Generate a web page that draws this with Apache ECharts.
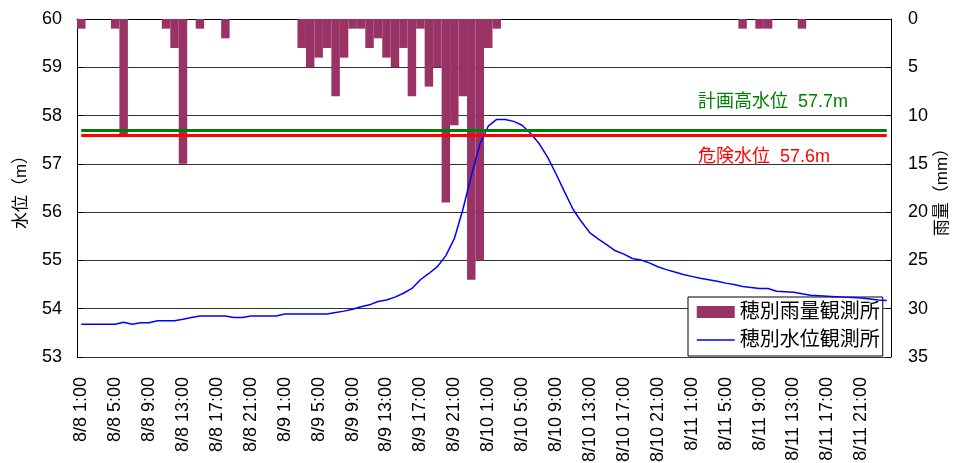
<!DOCTYPE html>
<html><head><meta charset="utf-8">
<script src="https://cdn.jsdelivr.net/npm/echarts@6/dist/echarts.min.js"></script>
<style>html,body{margin:0;padding:0;background:#fff}#c{width:957px;height:463px}</style>
</head><body><div id="c"></div>
<script>
// hourly categories 8/8 1:00 ... 8/12 0:00
const days = ['8/8', '8/9', '8/10', '8/11', '8/12'];
const categories = [];
for (let d = 0; d < 4; d++) {
  for (let h = 1; h <= 23; h++) categories.push(days[d] + ' ' + h + ':00');
  categories.push(days[d + 1] + ' 0:00');
}
// rainfall (mm/h) - 穂別雨量観測所
const rain = [
  1,0,0,0,1,12,0,0,0,0,
  1,3,15,0,1,0,0,2,0,0,
  0,0,0,0,0,0,3,5,4,3,
  8,4,1,1,3,2,4,5,3,8,
  1,7,5,19,11,8,27,25,3,1,
  0,0,0,0,0,0,0,0,0,0,
  0,0,0,0,0,0,0,0,0,0,
  0,0,0,0,0,0,0,0,1,0,
  1,1,0,0,0,1,0,0,0,0,
  0,0,0,0,0,0
];
// water level (m) - 穂別水位観測所
const level = [
  53.68,53.68,53.68,53.68,53.68,53.72,53.68,53.71,53.71,53.75,
  53.75,53.75,53.78,53.82,53.85,53.85,53.85,53.85,53.82,53.82,
  53.85,53.85,53.85,53.85,53.89,53.89,53.89,53.89,53.89,53.89,
  53.92,53.95,53.99,54.04,54.08,54.15,54.18,54.24,54.32,54.42,
  54.60,54.73,54.87,55.10,55.45,56.05,56.75,57.40,57.78,57.92,
  57.92,57.88,57.80,57.63,57.42,57.14,56.79,56.42,56.06,55.80,
  55.57,55.44,55.32,55.20,55.13,55.04,55.01,54.95,54.87,54.81,
  54.76,54.71,54.67,54.63,54.60,54.57,54.53,54.50,54.46,54.44,
  54.42,54.42,54.36,54.35,54.34,54.31,54.28,54.27,54.26,54.25,
  54.24,54.23,54.22,54.20,54.18,54.17
];
const planLevel = 57.7;   // 計画高水位
const dangerLevel = 57.6; // 危険水位
const seriesNames = ['穂別雨量観測所', '穂別水位観測所'];

const FONT = '"Liberation Sans", Arial, "Noto Sans CJK JP", sans-serif';
const chart = echarts.init(document.getElementById('c'), null, {renderer: 'canvas'});
const last = categories.length - 1;
chart.setOption({
  animation: false,
  textStyle: {fontFamily: FONT},
  grid: {left: 77, right: 66, top: 19, bottom: 106, containLabel: false, outerBoundsMode: 'none'},
  legend: {
    left: 688, top: 297, orient: 'vertical',
    backgroundColor: '#fff', borderColor: '#000', borderWidth: 1, borderRadius: 0,
    padding: [3, 3, 4, 8], itemGap: 4, itemWidth: 38, itemHeight: 12,
    textStyle: {fontSize: 20, color: '#000', fontFamily: FONT, lineHeight: 24},
    data: [
      {name: seriesNames[0], icon: 'rect'},
      {name: seriesNames[1], itemStyle: {opacity: 0}, lineStyle: {width: 1.5, color: '#0000ff', opacity: 1}}
    ]
  },
  xAxis: {
    type: 'category', data: categories, boundaryGap: true,
    axisLine: {lineStyle: {color: '#000', width: 1}},
    axisTick: {inside: true, length: 5, interval: 3, lineStyle: {color: '#000'}},
    axisLabel: {interval: 3, rotate: 90, fontSize: 18, color: '#000', margin: 20, fontFamily: FONT},
    splitLine: {show: false}
  },
  yAxis: [{
    type: 'value', min: 53, max: 60, interval: 1,
    name: '水位（m）', nameLocation: 'middle', nameGap: 47, nameMoveOverlap: false,
    nameTextStyle: {fontSize: 17, color: '#000', fontFamily: FONT},
    axisLine: {show: true, lineStyle: {color: '#000'}},
    axisTick: {show: true, inside: true, length: 6, lineStyle: {color: '#000'}},
    axisLabel: {fontSize: 18, color: '#000', margin: 15},
    splitLine: {lineStyle: {color: '#333', width: 1}}
  }, {
    type: 'value', min: 0, max: 35, interval: 5, inverse: true,
    name: '雨量（mm）', nameLocation: 'middle', nameGap: 43, nameRotate: 90, nameMoveOverlap: false,
    nameTextStyle: {fontSize: 17, color: '#000', fontFamily: FONT},
    axisLine: {show: true, lineStyle: {color: '#000'}},
    axisTick: {show: true, inside: true, length: 5, lineStyle: {color: '#000'}},
    axisLabel: {fontSize: 18, color: '#000', margin: 17},
    splitLine: {show: false}
  }],
  series: [{
    name: seriesNames[0], type: 'bar', yAxisIndex: 1, data: rain,
    barCategoryGap: '0%', itemStyle: {color: '#993366'}, z: 2
  }, {
    name: seriesNames[1], type: 'line', yAxisIndex: 0, data: level,
    symbol: 'none', lineStyle: {color: '#0000ff', width: 1.5}, itemStyle: {color: '#0000ff'}, z: 4,
    markLine: {
      silent: true, symbol: 'none', label: {show: false},
      data: [
        [{coord: [0, planLevel], lineStyle: {color: '#008000', width: 3, type: 'solid'}}, {coord: [last, planLevel]}],
        [{coord: [0, dangerLevel], lineStyle: {color: '#ff0000', width: 3, type: 'solid'}}, {coord: [last, dangerLevel]}]
      ]
    }
  }]
});
const yPlan = chart.convertToPixel({yAxisIndex: 0}, planLevel);
const yDanger = chart.convertToPixel({yAxisIndex: 0}, dangerLevel);
chart.setOption({
  graphic: [
    {type: 'text', x: 698, y: yPlan - 28, z: 10,
     style: {text: '計画高水位  ' + planLevel + 'm', fill: '#008000', font: '18px ' + FONT, verticalAlign: 'middle'}},
    {type: 'text', x: 698, y: yDanger + 22, z: 10,
     style: {text: '危険水位  ' + dangerLevel + 'm', fill: '#ff0000', font: '18px ' + FONT, verticalAlign: 'middle'}}
  ]
});
</script></body></html>
